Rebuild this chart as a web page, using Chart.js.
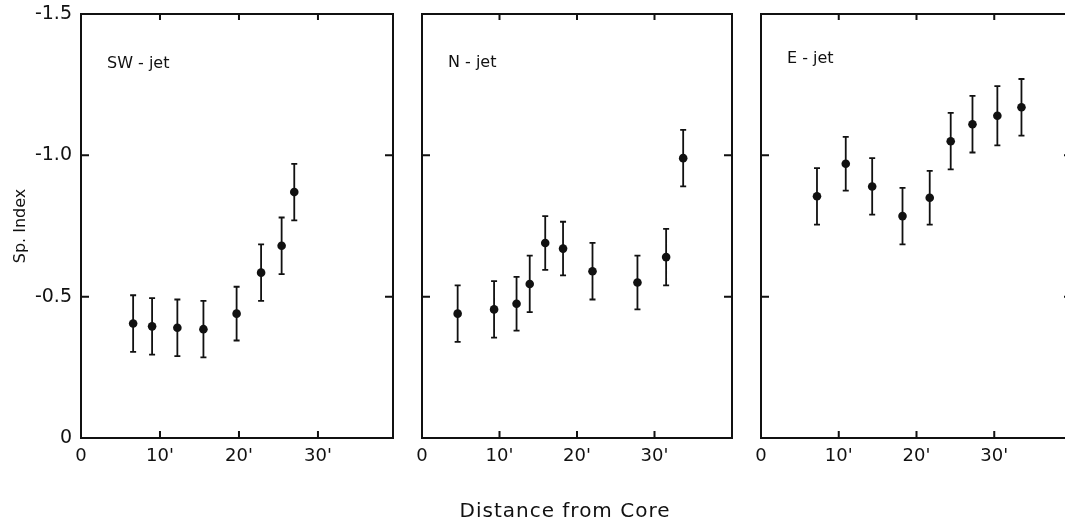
<!DOCTYPE html>
<html>
<head>
<meta charset="utf-8">
<script src="https://cdn.jsdelivr.net/npm/chart.js@4"></script>
<style>
  html, body { margin: 0; padding: 0; background: #fff; }
  #wrap { position: relative; width: 1065px; height: 522px; overflow: hidden; }
  canvas { position: absolute; top: 0; }
</style>
</head>
<body>
<div id="wrap">
  <canvas id="c1" width="410" height="522" style="left:0"></canvas>
  <canvas id="c2" width="330" height="522" style="left:410px"></canvas>
  <canvas id="c3" width="345" height="522" style="left:740px"></canvas>
</div>
<script>
// distance from core (arcmin), spectral index, half error bar
const swX = [6.6, 9.0, 12.2, 15.5, 19.7, 22.8, 25.4, 27.0];
const swY = [-0.405, -0.395, -0.39, -0.385, -0.44, -0.585, -0.68, -0.87];
const swErr = [0.10, 0.10, 0.10, 0.10, 0.095, 0.10, 0.10, 0.10];

const nX = [4.6, 9.3, 12.2, 13.9, 15.9, 18.2, 22.0, 27.8, 31.5, 33.7];
const nY = [-0.44, -0.455, -0.475, -0.545, -0.69, -0.67, -0.59, -0.55, -0.64, -0.99];
const nErr = [0.10, 0.10, 0.095, 0.10, 0.095, 0.095, 0.10, 0.095, 0.10, 0.10];

const eX = [7.2, 10.9, 14.3, 18.2, 21.7, 24.4, 27.2, 30.4, 33.5];
const eY = [-0.855, -0.97, -0.89, -0.785, -0.85, -1.05, -1.11, -1.14, -1.17];
const eErr = [0.10, 0.095, 0.10, 0.10, 0.095, 0.10, 0.10, 0.105, 0.10];

const xTickValues = [0, 10, 20, 30];
const xTickLabels = ['0', "10'", "20'", "30'"];
const yTickValues = [-1.5, -1.0, -0.5, 0];
const yTickLabels = ['-1.5', '-1.0', '-0.5', '0'];

const INK = '#111';
const FONT = '"DejaVu Sans", sans-serif';

const errorBars = {
    id: 'errorBars',
    beforeDatasetsDraw(chart) {
        const { ctx, scales: { x, y } } = chart;
        ctx.save();
        ctx.strokeStyle = INK;
        ctx.lineWidth = 1.8;
        ctx.beginPath();
        chart.data.datasets.forEach(ds => {
            ds.data.forEach(p => {
                const px = x.getPixelForValue(p.x);
                const y1 = y.getPixelForValue(p.y - p.err);
                const y2 = y.getPixelForValue(p.y + p.err);
                ctx.moveTo(px, y1); ctx.lineTo(px, y2);
                ctx.moveTo(px - 3, y1); ctx.lineTo(px + 3, y1);
                ctx.moveTo(px - 3, y2); ctx.lineTo(px + 3, y2);
            });
        });
        ctx.stroke();
        ctx.restore();
    }
};

const frame = {
    id: 'frame',
    afterDraw(chart, args, opts) {
        const { ctx, chartArea: a, scales: { x, y } } = chart;
        ctx.save();
        ctx.strokeStyle = INK;
        ctx.lineWidth = 2;
        ctx.strokeRect(a.left, a.top, a.right - a.left, a.bottom - a.top);
        ctx.beginPath();
        xTickValues.slice(1).forEach(v => {
            const px = x.getPixelForValue(v);
            ctx.moveTo(px, a.bottom); ctx.lineTo(px, a.bottom - 7);
            ctx.moveTo(px, a.top); ctx.lineTo(px, a.top + 6);
        });
        yTickValues.slice(1, 3).forEach(v => {
            const py = y.getPixelForValue(v);
            ctx.moveTo(a.left, py); ctx.lineTo(a.left + 8, py);
            ctx.moveTo(a.right, py); ctx.lineTo(a.right - 8, py);
        });
        ctx.stroke();

        ctx.fillStyle = INK;
        ctx.font = '16px ' + FONT;
        ctx.textBaseline = 'alphabetic';
        ctx.fillText(opts.label, a.left + 26, a.top + opts.labelY);

        if (opts.title) {
            ctx.font = '20px ' + FONT;
            ctx.letterSpacing = '1px';
            ctx.textAlign = 'center';
            ctx.fillText(opts.title, (a.left + a.right) / 2 - 12, 517);
        }
        ctx.restore();
    }
};

function makePanel(id, xs, ys, errs, label, opts) {
    const points = xs.map((v, i) => ({ x: v, y: ys[i], err: errs[i] }));
    return new Chart(document.getElementById(id), {
        type: 'scatter',
        data: {
            datasets: [{
                data: points,
                pointRadius: 4.3,
                pointHoverRadius: 4.3,
                backgroundColor: INK,
                borderWidth: 0
            }]
        },
        options: {
            responsive: false,
            animation: false,
            events: [],
            layout: { padding: opts.padding },
            plugins: {
                legend: { display: false },
                tooltip: { enabled: false },
                frame: { label: label, labelY: opts.labelY, title: opts.title }
            },
            scales: {
                x: {
                    type: 'linear',
                    min: 0,
                    max: opts.xMax,
                    grid: { display: false, drawTicks: false },
                    border: { display: false },
                    afterBuildTicks: s => { s.ticks = xTickValues.map(v => ({ value: v })); },
                    afterFit: s => { s.height = 84; s.paddingLeft = 0; s.paddingRight = 0; },
                    ticks: {
                        color: INK,
                        padding: 8,
                        maxRotation: 0,
                        autoSkip: false,
                        font: { family: FONT, size: 18 },
                        callback: (v, i) => xTickLabels[i]
                    }
                },
                y: {
                    type: 'linear',
                    min: -1.5,
                    max: 0,
                    reverse: true,
                    display: opts.showY,
                    grid: { display: false, drawTicks: false },
                    border: { display: false },
                    afterBuildTicks: s => { s.ticks = yTickValues.map(v => ({ value: v })); },
                    afterFit: s => {
                        s.width = opts.showY ? 81 : 0;
                        s.paddingTop = 0;
                        s.paddingBottom = 0;
                    },
                    ticks: {
                        color: INK,
                        padding: 9,
                        font: { family: FONT, size: 19 },
                        callback: (v, i) => yTickLabels[i]
                    },
                    title: {
                        display: true,
                        text: 'Sp. Index',
                        color: INK,
                        padding: { top: 11, bottom: 0 },
                        font: { family: FONT, size: 16 }
                    }
                }
            }
        },
        plugins: [errorBars, frame]
    });
}

makePanel('c1', swX, swY, swErr, 'SW - jet',
    { padding: { top: 14, left: 0, right: 17, bottom: 0 }, xMax: 39.5, showY: true, labelY: 54 });
makePanel('c2', nX, nY, nErr, 'N - jet',
    { padding: { top: 14, left: 12, right: 8, bottom: 0 }, xMax: 40, showY: false, labelY: 53,
      title: 'Distance from Core' });
makePanel('c3', eX, eY, eErr, 'E - jet',
    { padding: { top: 14, left: 21, right: 13, bottom: 0 }, xMax: 40, showY: false, labelY: 49 });
</script>
</body>
</html>
